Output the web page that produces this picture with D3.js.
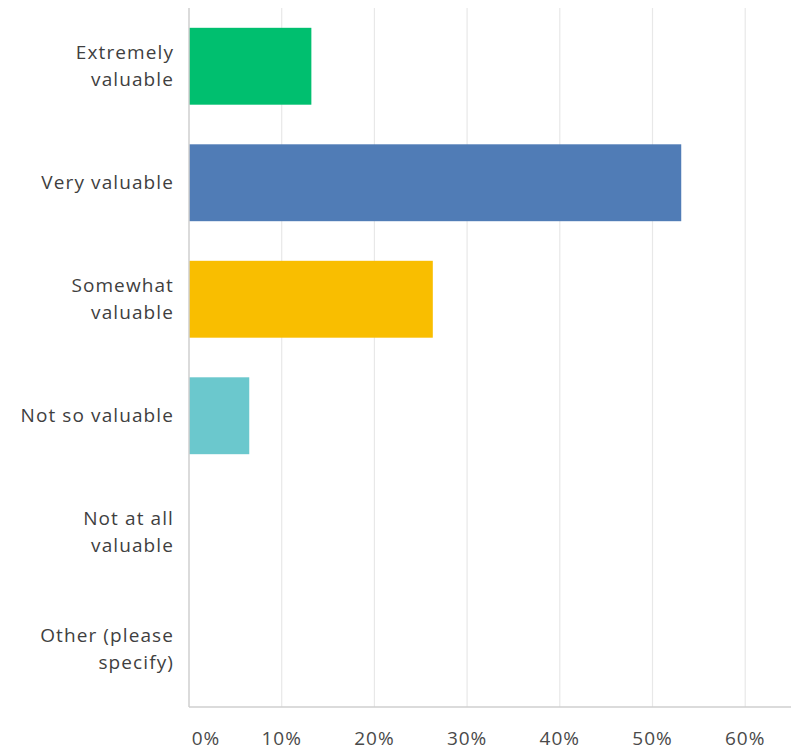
<!DOCTYPE html>
<html>
<head>
<meta charset="utf-8">
<script src="https://cdn.jsdelivr.net/npm/d3@7"></script>
<style>
  body { margin: 0; background: #fff; }
  svg { display: block; }
</style>
</head>
<body>
<div id="chart"></div>
<script>
// answer choices, top to bottom
const categories = [
	["Extremely", "valuable"],
	["Very valuable"],
	["Somewhat", "valuable"],
	["Not so valuable"],
	["Not at all", "valuable"],
	["Other (please", "specify)"]
];
const percents = [13.2, 53.1, 26.3, 6.5, 0, 0];
const barColors = ["#00bf6f", "#507cb6", "#f9be00", "#6bc8cd", "#ac9edb", "#d25f90"];
const tickValues = [0, 10, 20, 30, 40, 50, 60];

const width = 791, height = 752;
const plotLeft = 189, plotTop = 8, plotBottom = 707;

const svg = d3.select("#chart").append("svg")
	.attr("width", width)
	.attr("height", height);

const x = d3.scaleLinear().domain([0, 10]).range([plotLeft, plotLeft + 92.7]);
const y = d3.scaleBand()
	.domain(d3.range(categories.length))
	.range([plotTop, plotBottom])
	.paddingInner(0.34)
	.paddingOuter(0.17);

// grid
svg.append("g")
	.selectAll("line")
	.data(tickValues.slice(1))
	.enter()
	.append("line")
	.attr("x1", d => x(d)).attr("x2", d => x(d))
	.attr("y1", plotTop).attr("y2", plotBottom)
	.attr("stroke", "#e8e8e8")
	.attr("stroke-width", 1.2);

// bars
svg.append("g")
	.selectAll("rect")
	.data(percents)
	.enter()
	.append("rect")
	.attr("x", x(0))
	.attr("y", (d, i) => y(i))
	.attr("width", d => x(d) - x(0))
	.attr("height", y.bandwidth())
	.attr("fill", (d, i) => barColors[i]);

// axis lines
svg.append("line")
	.attr("x1", plotLeft).attr("x2", plotLeft)
	.attr("y1", plotTop).attr("y2", plotBottom)
	.attr("stroke", "#cfcfcf").attr("stroke-width", 1.5);
svg.append("line")
	.attr("x1", plotLeft).attr("x2", width)
	.attr("y1", plotBottom).attr("y2", plotBottom)
	.attr("stroke", "#cfcfcf").attr("stroke-width", 1.5);

// category labels
const lineH = 27;
const labels = svg.append("g")
	.selectAll("text")
	.data(categories)
	.enter()
	.append("text")
	.attr("text-anchor", "end")
	.attr("font-family", "'Open Sans', sans-serif")
	.attr("font-size", "19px")
	.attr("letter-spacing", "1.1px")
	.attr("fill", "#3f3f3f");

labels.each(function (lines, i) {
	const cy = y(i) + y.bandwidth() / 2;
	const y0 = cy - (lines.length - 1) * lineH / 2;
	d3.select(this).selectAll("tspan")
		.data(lines)
		.enter()
		.append("tspan")
		.attr("x", 174)
		.attr("y", (d, j) => y0 + j * lineH)
		.attr("dy", "0.35em")
		.text(d => d);
});

// tick labels
svg.append("g")
	.selectAll("text")
	.data(tickValues)
	.enter()
	.append("text")
	.attr("x", d => d === 0 ? x(d) + 17 : x(d))
	.attr("y", 738)
	.attr("dy", "0.35em")
	.attr("text-anchor", "middle")
	.attr("font-family", "'Open Sans', sans-serif")
	.attr("font-size", "19px")
	.attr("letter-spacing", "1px")
	.attr("fill", "#4a4a4a")
	.text(d => d + "%");
</script>
</body>
</html>
